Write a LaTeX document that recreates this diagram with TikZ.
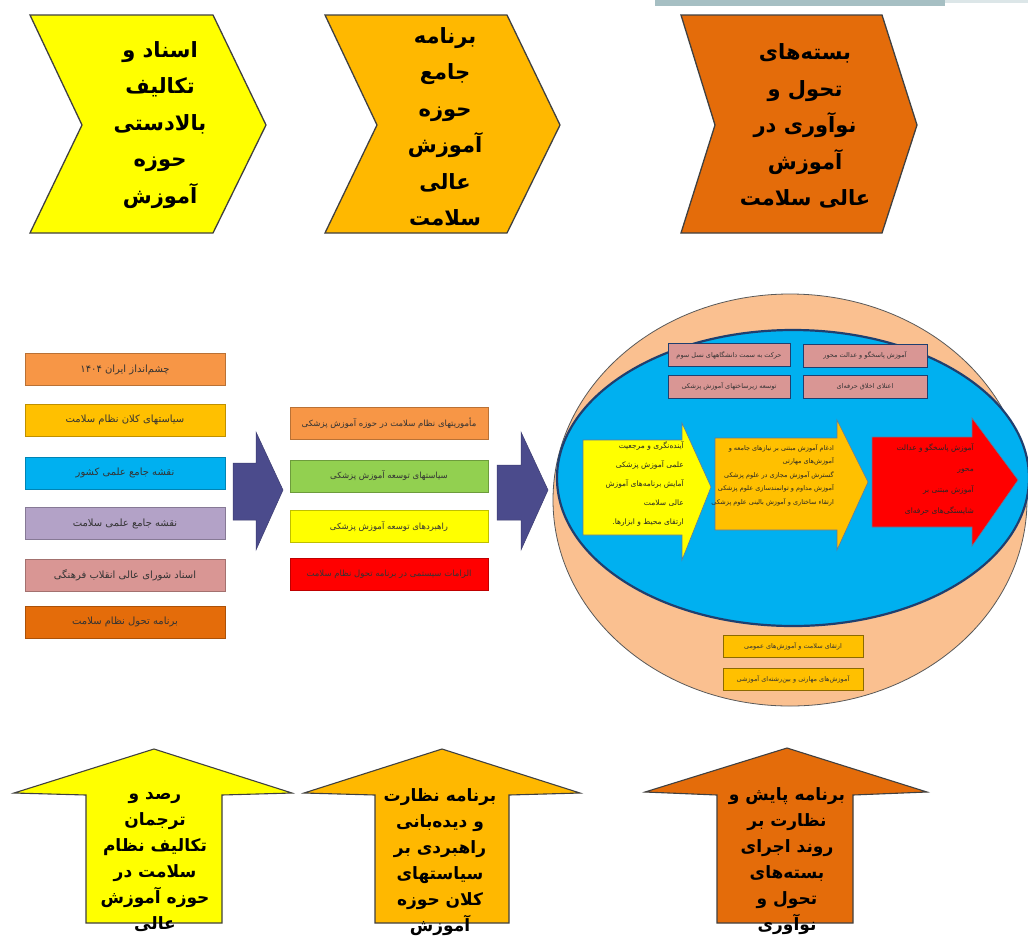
\documentclass[tikz,border=0pt]{standalone}
\usepackage{fontspec}
\TeXXeTstate=1
\newfontfamily\fafont[Script=Arabic]{DejaVu Sans}
\newcommand\rl[1]{\beginR #1\endR}
\definecolor{cyel}{HTML}{FFFF00}
\definecolor{camb}{HTML}{FFB800}
\definecolor{cdor}{HTML}{E46C0A}
\definecolor{lbA}{HTML}{F79646}
\definecolor{lbB}{HTML}{FFC000}
\definecolor{lbC}{HTML}{00B0F0}
\definecolor{lbD}{HTML}{B3A2C7}
\definecolor{lbE}{HTML}{D99694}
\definecolor{lbF}{HTML}{E46C0A}
\definecolor{mbB}{HTML}{92D050}
\definecolor{mbD}{HTML}{FF0000}
\definecolor{cpeach}{HTML}{FAC090}
\definecolor{cblue}{HTML}{00B0F0}
\definecolor{cnavy}{HTML}{1F3F6F}
\definecolor{carrow}{HTML}{4B4B8C}
\definecolor{cbar}{HTML}{A6BFC3}
\definecolor{cbarl}{HTML}{DCE6E8}
\begin{document}
\begin{tikzpicture}[x=1pt,y=-1pt,
  chev/.style={draw=black!75, line width=1.3pt, line join=miter},
  bigtxt/.style={font=\fafont\bfseries\fontsize{21}{36.5}\selectfont, align=center, inner sep=0pt},
  uptxt/.style={font=\fafont\bfseries\fontsize{17}{26}\selectfont, align=center, inner sep=0pt},
  lbox/.style={draw=#1!75!black, line width=0.4pt, fill=#1, minimum width=200pt, minimum height=32pt, inner sep=0pt, font=\fafont\fontsize{10}{11}\selectfont, text=black!80},
  mbox/.style={draw=#1!75!black, line width=0.4pt, fill=#1, minimum width=198pt, minimum height=32pt, inner sep=0pt, font=\fafont\fontsize{8.5}{10}\selectfont, text=black!80},
  pbox/.style={draw=cnavy, line width=0.8pt, fill=lbE, minimum width=122pt, minimum height=23pt, inner sep=0pt, font=\fafont\fontsize{6.5}{8}\selectfont, text=black!80},
  gbox/.style={draw=black!45!lbB, line width=0.8pt, fill=lbB, minimum width=140pt, minimum height=22pt, inner sep=0pt, font=\fafont\fontsize{6.5}{8}\selectfont, text=black!80},
  smalltxt/.style={font=\fafont\fontsize{7.5}{#1}\selectfont, align=right, inner sep=0pt, text=black!85},
  blockarrow/.style={fill=carrow, draw=carrow!80!black, line width=0.5pt}
]
\useasboundingbox (0,0) rectangle (1028,938);
\fill[white] (0,0) rectangle (1028,938);
% top bar
\fill[cbar] (655,0) rectangle (945,6);
\fill[cbarl] (945,0) rectangle (1028,2.5);

% top chevrons
\path[chev, fill=cyel] (30,15) -- (213,15) -- (266,125) -- (213,233) -- (30,233) -- (82,125) -- cycle;
\path[chev, fill=camb] (325,15) -- (507,15) -- (560,125) -- (507,233) -- (325,233) -- (377,125) -- cycle;
\path[chev, fill=cdor] (681,15) -- (882,15) -- (917,125) -- (882,233) -- (681,233) -- (715,125) -- cycle;
\node[bigtxt] (t1) at (160,125) {\rl{اسناد و}\\\rl{تکالیف}\\\rl{بالادستی}\\\rl{حوزه}\\\rl{آموزش}};
\node[bigtxt] (t2) at (445,127) {\rl{برنامه}\\\rl{جامع}\\\rl{حوزه}\\\rl{آموزش}\\\rl{عالی}\\\rl{سلامت}};
\node[bigtxt] (t3) at (805,126) {\rl{بسته‌های}\\\rl{تحول و}\\\rl{نوآوری در}\\\rl{آموزش}\\\rl{عالی سلامت}};

% left column
\node[lbox=lbA] (l1) at (125,369.5) {\rl{چشم‌انداز ایران \beginL ۱۴۰۴\endL{}}};
\node[lbox=lbB] (l2) at (125,420) {\rl{سیاستهای کلان نظام سلامت}};
\node[lbox=lbC] (l3) at (125,473) {\rl{نقشه جامع علمی کشور}};
\node[lbox=lbD] (l4) at (125,523.5) {\rl{نقشه جامع علمی سلامت}};
\node[lbox=lbE] (l5) at (125,575) {\rl{اسناد شورای عالی انقلاب فرهنگی}};
\node[lbox=lbF] (l6) at (125,622) {\rl{برنامه تحول نظام سلامت}};

% block arrow 1
\path[blockarrow] (233,463) -- (256,463) -- (256,432) -- (283,490) -- (256,550) -- (256,520) -- (233,520) -- cycle;

% middle column
\node[mbox=lbA] (m1) at (389,423.5) {\rl{مأموریتهای نظام سلامت در حوزه آموزش پزشکی}};
\node[mbox=mbB] (m2) at (389,476) {\rl{سیاستهای توسعه آموزش پزشکی}};
\node[mbox=cyel] (m3) at (389,526.5) {\rl{راهبردهای توسعه آموزش پزشکی}};
\node[mbox=mbD] (m4) at (389,574) {\rl{الزامات سیستمی در برنامه تحول نظام سلامت}};

% block arrow 2
\path[blockarrow] (497,465) -- (521,465) -- (521,432) -- (548,490) -- (521,550) -- (521,520) -- (497,520) -- cycle;

% big circle
\path[fill=cpeach, draw=black!65, line width=0.8pt] (790,500) ellipse [x radius=237, y radius=206];
\path[fill=cblue, draw=cnavy, line width=2.2pt] (793,478) ellipse [x radius=236, y radius=148];

\node[pbox] (p1) at (729,355) {\rl{حرکت به سمت دانشگاههای نسل سوم}};
\node[pbox, minimum width=124pt] (p2) at (865,355.5) {\rl{آموزش پاسخگو و عدالت محور}};
\node[pbox] (p3) at (729,386.5) {\rl{توسعه زیرساختهای آموزش پزشکی}};
\node[pbox, minimum width=124pt] (p4) at (865,386.5) {\rl{اعتلای اخلاق حرفه‌ای}};

% arrows inside
\path[fill=cyel, draw=cnavy!70, line width=0.6pt] (583,440) -- (682,440) -- (682,423) -- (711,487) -- (682,560) -- (682,535) -- (583,535) -- cycle;
\path[fill=lbB, draw=cnavy!70, line width=0.6pt] (715,438) -- (837,438) -- (837,420) -- (868,482) -- (837,550) -- (837,530) -- (715,530) -- cycle;
\path[fill=mbD, draw=cnavy!70, line width=0.6pt] (872,437) -- (972,437) -- (972,418) -- (1018,480) -- (972,546) -- (972,527) -- (872,527) -- cycle;

\node[smalltxt=19, anchor=north east] (a1) at (684,441) {\rl{آینده‌نگری و مرجعیت}\\\rl{علمی آموزش پزشکی}\\\rl{آمایش برنامه‌های آموزش}\\\rl{عالی سلامت}\\\rl{ارتقای محیط و ابزارها.}};
\node[smalltxt=13.5, anchor=north east, font=\fafont\fontsize{6.5}{13.5}\selectfont] (a2) at (834,444) {\rl{ادغام آموزش مبتنی بر نیازهای جامعه و}\\\rl{آموزش‌های مهارتی}\\\rl{گسترش آموزش مجازی در علوم پزشکی}\\\rl{آموزش مداوم و توانمندسازی علوم پزشکی}\\\rl{ارتقاء ساختاری و آموزش بالینی علوم پزشکی}};
\node[smalltxt=21, anchor=north east] (a3) at (974,443) {\rl{آموزش پاسخگو و عدالت}\\\rl{محور}\\\rl{آموزش مبتنی بر}\\\rl{شایستگی‌های حرفه‌ای}};

\node[gbox] (g1) at (793,646.5) {\rl{ارتقای سلامت و آموزش‌های عمومی}};
\node[gbox] (g2) at (793,679) {\rl{آموزش‌های مهارتی و بین‌رشته‌ای آموزشی}};

% bottom up arrows
\path[chev, line width=1.1pt, fill=cyel] (154,749) -- (292,793) -- (222,795) -- (222,923) -- (86,923) -- (86,795) -- (14,793) -- cycle;
\path[chev, line width=1.1pt, fill=camb] (442,749) -- (580,793) -- (509,795) -- (509,923) -- (375,923) -- (375,795) -- (304,793) -- cycle;
\path[chev, line width=1.1pt, fill=cdor] (787,748) -- (927,792) -- (853,795) -- (853,923) -- (717,923) -- (717,795) -- (645,792) -- cycle;
\node[uptxt] (u1) at (155,862) {\rl{رصد و}\\\rl{ترجمان}\\\rl{تکالیف نظام}\\\rl{سلامت در}\\\rl{حوزه آموزش}\\\rl{عالی}};
\node[uptxt] (u2) at (440,862) {\rl{برنامه نظارت}\\\rl{و دیده‌بانی}\\\rl{راهبردی بر}\\\rl{سیاستهای}\\\rl{کلان حوزه}\\\rl{آموزش}};
\node[uptxt] (u3) at (787,861) {\rl{برنامه پایش و}\\\rl{نظارت بر}\\\rl{روند اجرای}\\\rl{بسته‌های}\\\rl{تحول و}\\\rl{نوآوری}};
\end{tikzpicture}
\end{document}
